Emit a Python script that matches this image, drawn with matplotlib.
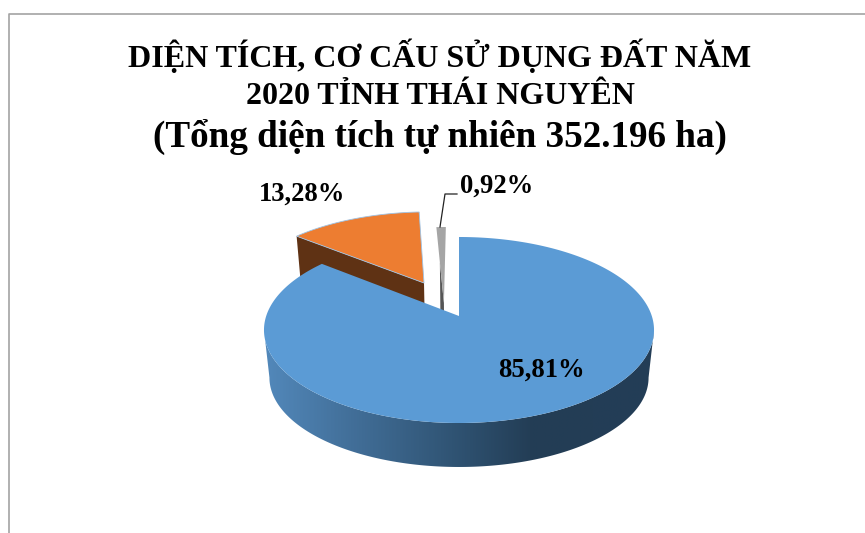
import numpy as np
import matplotlib
matplotlib.use("Agg")
import matplotlib.pyplot as plt
from matplotlib.colors import LinearSegmentedColormap
from matplotlib.patches import Polygon

plt.rcParams['font.family'] = ['Liberation Serif', 'DejaVu Serif']

# Land-use shares (%)
categories = ["Đất nông nghiệp", "Đất phi nông nghiệp", "Đất chưa sử dụng"]
shares = [85.81, 13.28, 0.92]
title_lines = ["DIỆN TÍCH, CƠ CẤU SỬ DỤNG ĐẤT NĂM", "2020 TỈNH THÁI NGUYÊN"]
subtitle = "(Tổng diện tích tự nhiên 352.196 ha)"

top_colors = ["#5B9BD5", "#ED7D31", "#A5A5A5"]
side_colors = [None, "#5F3214", "#555555"]
# Slice displacement on the unit disc (sideways, towards the back)
offsets = [(0.0, 0.0), (-0.192, 0.384), (-0.08, 0.148)]
# How far along the slice edge its side wall starts to show (0 = at the rim)
wall_start = [0.0, 0.0, 0.5]

# Perspective of the tilted disc, in pixels
CX, CY, RX, RY, TILT = 459.0, 316.0, 192.8, 90.9, 0.1505
RIM_MID_Y, RIM_SHIFT, RIM_SX, RIM_SY = 330.0, 47.7, 0.972, 0.96


def project(u, v):
    w = 1 + TILT * v
    return CX + RX * u / w, CY - RY * v / w


def lower(x, y):
    return CX + (x - CX) * RIM_SX, RIM_MID_Y + RIM_SHIFT + (y - RIM_MID_Y) * RIM_SY


def rim(a0, a1, off=(0.0, 0.0), n=240):
    t = np.radians(np.linspace(a0, a1, n))
    return project(np.sin(t) + off[0], np.cos(t) + off[1])


def wedge(a0, a1, off):
    x, y = rim(a0, a1, off)
    ax0, ay0 = project(off[0], off[1])
    return np.column_stack([np.r_[ax0, x], np.r_[ay0, y]])


def side_of_edge(angle, off, start=0.0):
    x0, y0 = project(off[0], off[1])
    t = np.radians(angle)
    reach = 1 - start
    x1, y1 = project(reach * np.sin(t) + off[0], reach * np.cos(t) + off[1])
    bx0, by0 = lower(x0, y0)
    bx1, by1 = lower(x1, y1)
    return [(x1, y1), (x0, y0), (bx0, by0), (bx1, by1)]


fig = plt.figure(figsize=(8.65, 5.33), dpi=100, facecolor="white")
ax = fig.add_axes([0, 0, 1, 1])
ax.set_xlim(0, 865)
ax.set_ylim(533, 0)
ax.axis("off")

# Chart frame: only the top and left sides fall inside the canvas
ax.plot([9, 9, 865], [533, 13.5, 13.5], color="#A3A3A3", lw=1.2, zorder=1)

# Slice angles, clockwise from twelve o'clock
total = sum(shares)
edges = np.r_[0, np.cumsum(shares)] / total * 360

# Exposed side walls of the two pulled-out slices
for i in (1, 2):
    ax.add_patch(Polygon(side_of_edge(edges[i], offsets[i], wall_start[i]), closed=True,
                         fc=side_colors[i], ec="none", zorder=2))
for i in (1, 2):
    edge = "#9DC3E6" if i == 1 else "none"
    ax.add_patch(Polygon(wedge(edges[i], edges[i + 1], offsets[i]), closed=True,
                         fc=top_colors[i], ec=edge, lw=0.6, zorder=3))

# Front wall of the large slice with its left-to-right shading,
# spanning the rim between the disc's two widest points
tx, ty = rim(98.6, 261.4)
bx, by = lower(tx, ty)
wall = Polygon(np.column_stack([np.r_[tx, bx[::-1]], np.r_[ty, by[::-1]]]),
               closed=True, fc="none", ec="none", zorder=4)
ax.add_patch(wall)
shade = LinearSegmentedColormap.from_list(
    "wall", [(0.0, "#5288BA"), (0.22, "#426F99"), (0.48, "#305474"),
             (0.69, "#233D55"), (1.0, "#233E57")])
img = ax.imshow(np.linspace(0, 1, 400)[None, :], cmap=shade, aspect="auto",
                extent=(265, 654, 480, 300), zorder=4)
img.set_clip_path(wall)
ax.set_xlim(0, 865)
ax.set_ylim(533, 0)

ax.add_patch(Polygon(wedge(edges[0], edges[1], offsets[0]), closed=True,
                     fc=top_colors[0], ec="none", zorder=5))

# Value labels
value_text = [f"{v:.2f}".replace(".", ",") + "%" for v in shares]
label_style = dict(fontsize=19.2, fontweight="bold", color="black",
                   ha="center", va="center", zorder=7)
ax.text(541, 370, value_text[0], **label_style)
ax.text(302, 194, value_text[1], **label_style)
ax.text(497, 186, value_text[2], **label_style)
ax.plot([440, 445, 457], [227, 194, 194], color="#222222", lw=0.9, zorder=6)

# Title block, placed by baseline
ax.text(440, 67, title_lines[0], fontsize=23, fontweight="bold",
        ha="center", va="baseline", color="black")
ax.text(440, 104, title_lines[1], fontsize=23, fontweight="bold",
        ha="center", va="baseline", color="black")
ax.text(439.5, 147, subtitle, fontsize=26.7, fontweight="bold",
        ha="center", va="baseline", color="black")

fig.savefig("out.png", dpi=100, facecolor="white")
